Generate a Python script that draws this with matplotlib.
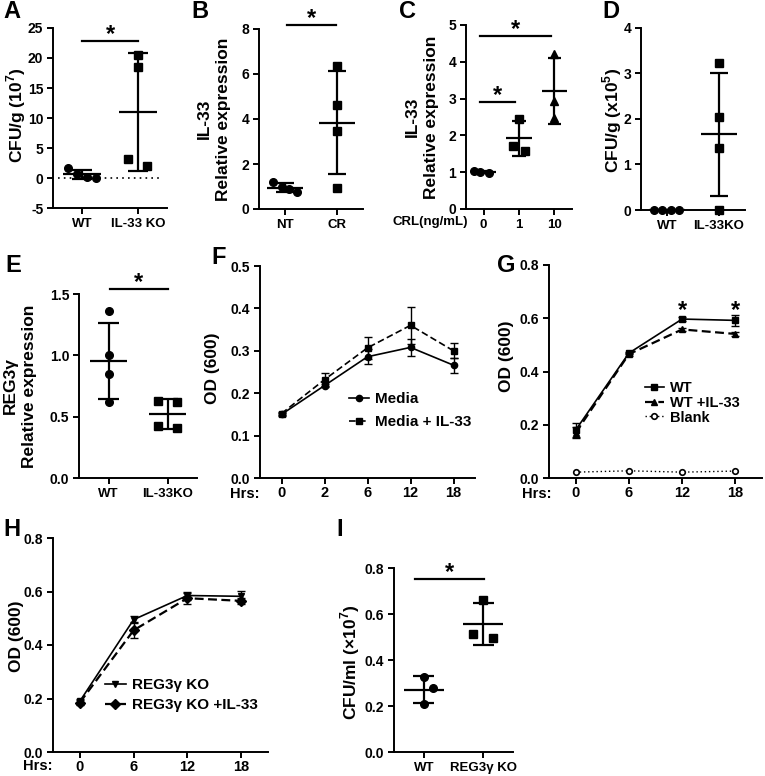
import numpy as np
import matplotlib
matplotlib.use("Agg")
import matplotlib.pyplot as plt

plt.rcParams['font.family'] = ['Liberation Sans', 'DejaVu Sans']
plt.rcParams['font.weight'] = 'bold'
plt.rcParams['mathtext.fontset'] = 'custom'
plt.rcParams['mathtext.rm'] = 'Liberation Sans:bold'
plt.rcParams['mathtext.bf'] = 'Liberation Sans:bold'
plt.rcParams['axes.linewidth'] = 1.4

# ---- data ----
A_CATS = ["WT", "IL-33 KO"]
A_WT = [1.7, 0.6, 0.2, 0.0]
A_KO = [20.5, 18.5, 3.1, 2.05]

B_CATS = ["NT", "CR"]
B_NT = [1.19, 0.99, 0.87, 0.77]
B_CR = [6.36, 4.61, 3.47, 0.92]

C_CATS = ["0", "1", "10"]
C_0 = [1.03, 1.0, 0.99]
C_1 = [2.45, 1.72, 1.58]
C_10 = [4.2, 2.93, 2.46]

D_CATS = ["WT", "IL-33KO"]
D_WT = [0.0, 0.0, 0.0, 0.0]
D_KO = [3.22, 2.05, 1.37, 0.0]

E_CATS = ["WT", "IL-33KO"]
E_WT = [1.358, 1.0, 0.848, 0.62]
E_KO = [0.63, 0.62, 0.42, 0.41]

F_HRS = ["0", "2", "6", "12", "18"]
F_MEDIA = [0.150, 0.218, 0.286, 0.308, 0.266]
F_MEDIA_SD = [0.003, 0.004, 0.018, 0.020, 0.018]
F_IL33 = [0.152, 0.232, 0.307, 0.360, 0.300]
F_IL33_SD = [0.003, 0.015, 0.026, 0.043, 0.018]

G_HRS = ["0", "6", "12", "18"]
G_WT = [0.18, 0.469, 0.597, 0.592]
G_WT_SD = [0.025, 0.005, 0.006, 0.022]
G_IL33 = [0.17, 0.465, 0.558, 0.541]
G_IL33_SD = [0.02, 0.005, 0.005, 0.006]
G_BLANK = [0.022, 0.027, 0.022, 0.026]

H_HRS = ["0", "6", "12", "18"]
H_KO = [0.19, 0.495, 0.585, 0.582]
H_KO_SD = [0.01, 0.012, 0.015, 0.02]
H_IL33 = [0.185, 0.455, 0.575, 0.565]
H_IL33_SD = [0.01, 0.03, 0.02, 0.01]

I_CATS = ["WT", "REG3γ KO"]
I_WT = [0.325, 0.28, 0.207]
I_KO = [0.662, 0.512, 0.495]

W, H = 765, 776
fig = plt.figure(figsize=(W / 100, H / 100), dpi=100)


def make_ax(l, t, r, b, ylim, yticks, yfmt, xlim):
    ax = fig.add_axes([l / W, 1 - b / H, (r - l) / W, (b - t) / H])
    ax.spines[['top', 'right']].set_visible(False)
    ax.set_ylim(*ylim)
    ax.set_xlim(*xlim)
    ax.set_yticks(yticks)
    ax.set_yticklabels([yfmt.format(v) for v in yticks])
    ax.tick_params(axis='both', length=4, width=1.4, direction='out', pad=3)
    ax.tick_params(axis='y', labelsize=10)
    ax.tick_params(axis='x', labelsize=9.5)
    ax.patch.set_alpha(0)
    return ax


def ftext(x, y, s, **kw):
    fig.text(x / W, 1 - y / H, s, **kw)


def dots(ax, groups, offsets, markers, ms=5.5, mean_w=0.34, cap_w=0.18):
    for i, (vals, off, m) in enumerate(zip(groups, offsets, markers)):
        vals = np.asarray(vals, dtype=float)
        ax.plot(i + np.asarray(off), vals, m, color='k', ms=ms, clip_on=False, zorder=3)
        mean, sd = vals.mean(), vals.std(ddof=1)
        ax.hlines(mean, i - mean_w, i + mean_w, color='k', lw=1.6, zorder=2)
        ax.vlines(i, mean - sd, mean + sd, color='k', lw=1.6, zorder=2)
        ax.hlines([mean - sd, mean + sd], i - cap_w, i + cap_w, color='k', lw=1.6, zorder=2)


def sig(ax, x0, x1, y, ystar=None):
    ax.plot([x0, x1], [y, y], color='k', lw=1.6, clip_on=False)
    ax.text((x0 + x1) / 2, y if ystar is None else ystar, '*', ha='center', va='baseline',
            fontsize=17, clip_on=False)


def cats(ax, labels):
    ax.set_xticks(range(len(labels)))
    ax.set_xticklabels(labels)


# ---- A ----
ax = make_ax(53, 28, 167, 208, (-5, 25), range(-5, 26, 5), "{}", (-0.52, 1.52))
cats(ax, A_CATS)
ax.axhline(0, xmin=0.04, xmax=0.96, color='k', ls=(0, (1, 2.5)), lw=1.2)
dots(ax, [A_WT, A_KO], [[-0.25, -0.09, 0.09, 0.25], [0, 0, -0.17, 0.16]], ['o', 's'])
sig(ax, 0, 1, 22.9)
ftext(16, 115, "CFU/g (10$^7$)", rotation=90, ha='center', va='center', fontsize=12.5)

# ---- B ----
ax = make_ax(259, 29, 363, 209, (0, 8), range(0, 9, 2), "{}", (-0.5, 1.5))
cats(ax, B_CATS)
dots(ax, [B_NT, B_CR], [[-0.23, -0.06, 0.08, 0.24], [0, 0, 0, 0]], ['o', 's'])
sig(ax, 0.03, 0.98, 8.18)
ftext(214, 119, "IL-33\nRelative expression", rotation=90, ha='center', va='center',
      fontsize=12.5, linespacing=1.3)

# ---- C ----
ax = make_ax(466, 25, 572, 209, (0, 5), range(0, 6), "{}", (-0.5, 2.5))
cats(ax, C_CATS)
dots(ax, [C_0, C_1, C_10], [[-0.28, -0.09, 0.14], [0, -0.17, 0.16], [0, 0, 0]],
     ['o', 's', '^'], mean_w=0.36, cap_w=0.19)
sig(ax, -0.1, 1.9, 4.7)
sig(ax, -0.1, 0.9, 2.9)
ftext(468, 222, "CRL(ng/mL)", ha='right', va='center', fontsize=9.5)
ftext(422, 117, "IL-33\nRelative expression", rotation=90, ha='center', va='center',
      fontsize=12.5, linespacing=1.3)

# ---- D ----
ax = make_ax(641, 28, 745, 210, (0, 4), range(0, 5), "{}", (-0.5, 1.5))
cats(ax, D_CATS)
dots(ax, [D_WT, D_KO], [[-0.25, -0.09, 0.07, 0.23], [0, 0, 0, 0]], ['o', 's'])
ftext(612, 120, "CFU/g (x10$^5$)", rotation=90, ha='center', va='center', fontsize=12.5)

# ---- E ----
ax = make_ax(79, 294, 197, 478, (0, 1.5), [0, 0.5, 1.0, 1.5], "{:.1f}", (-0.5, 1.5))
cats(ax, E_CATS)
dots(ax, [E_WT, E_KO], [[0, 0, 0, 0], [-0.155, 0.155, -0.155, 0.155]], ['o', 's'],
     mean_w=0.31)
sig(ax, 0.02, 1.0, 1.543)
ftext(20, 386, "REG3γ\nRelative expression", rotation=90, ha='center', va='center',
      fontsize=12.5, linespacing=1.3)


def line_panel(ax, hrs):
    ax.set_xticks(range(len(hrs)))
    ax.set_xticklabels(hrs)
    ax.tick_params(axis='x', labelsize=10.5, pad=2)


# ---- F ----
ax = make_ax(260, 266, 475, 478, (0, 0.5), [0, 0.1, 0.2, 0.3, 0.4, 0.5], "{:.1f}",
             (-0.5, 4.5))
line_panel(ax, F_HRS)
x = np.arange(len(F_HRS))
ax.errorbar(x, F_MEDIA, yerr=F_MEDIA_SD, fmt='none', ecolor='k', elinewidth=1, capsize=3)
ax.errorbar(x, F_IL33, yerr=F_IL33_SD, fmt='none', ecolor='k', elinewidth=1, capsize=3)
ax.plot(x, F_MEDIA, '-o', color='k', lw=1.2, ms=4.5, label="Media")
ax.plot(x, F_IL33, 's', color='k', ls=(0, (4, 2)), lw=1.2, ms=4.5, label="Media + IL-33")
ax.legend(frameon=False, fontsize=11, handlelength=1.3, handletextpad=0.4, labelspacing=0.6,
          borderpad=0, borderaxespad=0, loc='upper left', bbox_to_anchor=(0.415, 0.405))
ftext(213, 368, "OD (600)", rotation=90, ha='center', va='center', fontsize=12.5)
ftext(245, 494, "Hrs:", ha='center', va='center', fontsize=10.5)

# ---- G ----
ax = make_ax(549, 265, 762, 478, (0, 0.8), [0, 0.2, 0.4, 0.6, 0.8], "{:.1f}", (-0.5, 3.5))
line_panel(ax, G_HRS)
x = np.arange(len(G_HRS))
ax.errorbar(x, G_WT, yerr=G_WT_SD, fmt='none', ecolor='k', elinewidth=1, capsize=3)
ax.errorbar(x, G_IL33, yerr=G_IL33_SD, fmt='none', ecolor='k', elinewidth=1, capsize=3)
ax.plot(x, G_WT, '-s', color='k', lw=1.2, ms=5, label="WT")
ax.plot(x, G_IL33, '^', color='k', ls=(0, (4, 2)), lw=1.6, ms=4, label="WT +IL-33")
ax.plot(x, G_BLANK, 'o', color='k', ls=(0, (1, 2)), lw=1.0, ms=4, mfc='white', mew=1.2,
        label="Blank")
for i in (2, 3):
    ax.text(i, 0.603, '*', ha='center', va='baseline', fontsize=17)
ax.legend(frameon=False, fontsize=10.5, handlelength=1.3, handletextpad=0.4, labelspacing=0.05,
          borderpad=0, borderaxespad=0, loc='upper left', bbox_to_anchor=(0.45, 0.455))
ftext(507, 356, "OD (600)", rotation=90, ha='center', va='center', fontsize=12.5)
ftext(537, 494, "Hrs:", ha='center', va='center', fontsize=10.5)

# ---- H ----
ax = make_ax(53, 538, 268, 752, (0, 0.8), [0, 0.2, 0.4, 0.6, 0.8], "{:.1f}", (-0.5, 3.5))
line_panel(ax, H_HRS)
x = np.arange(len(H_HRS))
ax.errorbar(x, H_KO, yerr=H_KO_SD, fmt='none', ecolor='k', elinewidth=1, capsize=3)
ax.errorbar(x, H_IL33, yerr=H_IL33_SD, fmt='none', ecolor='k', elinewidth=1, capsize=3)
ax.plot(x, H_KO, '-v', color='k', lw=1.2, ms=5, label="REG3γ KO")
ax.plot(x, H_IL33, 'D', color='k', ls=(0, (4, 2)), lw=1.6, ms=5, label="REG3γ KO +IL-33")
ax.legend(frameon=False, fontsize=11, handlelength=1.4, handletextpad=0.4, labelspacing=0.4,
          borderpad=0, borderaxespad=0, loc='upper left', bbox_to_anchor=(0.24, 0.345))
ftext(17, 636, "OD (600)", rotation=90, ha='center', va='center', fontsize=12.5)
ftext(38, 766, "Hrs:", ha='center', va='center', fontsize=10.5)

# ---- I ----
ax = make_ax(394, 568, 513, 752, (0, 0.8), [0, 0.2, 0.4, 0.6, 0.8], "{:.1f}", (-0.5, 1.5))
cats(ax, I_CATS)
dots(ax, [I_WT, I_KO], [[0, 0.16, 0], [0, -0.17, 0.17]], ['o', 's'])
sig(ax, -0.14, 1.02, 0.753)
ftext(350, 662, "CFU/ml (×10$^7$)", rotation=90, ha='center', va='center', fontsize=12.5)

# ---- panel letters ----
for s, (px, py) in zip("ABCDEFGHI", [(12, 12), (200, 12), (407, 12), (611, 12), (13, 265),
                                     (219, 257), (506, 265), (12, 530), (340, 529)]):
    ftext(px, py, s, ha='center', va='center', fontsize=17)

fig.savefig("out.png", dpi=100)
